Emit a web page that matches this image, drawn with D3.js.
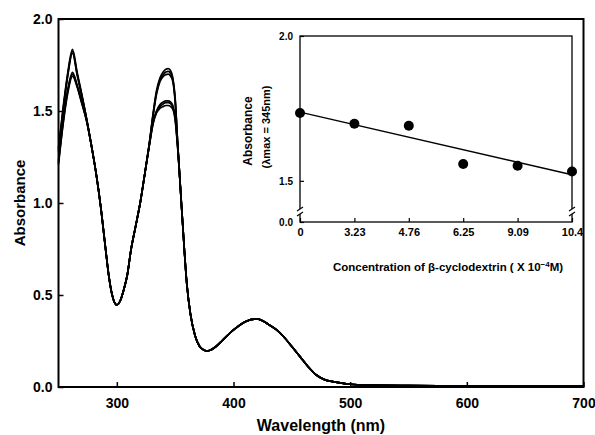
<!DOCTYPE html>
<html>
<head>
<meta charset="utf-8">
<script src="https://cdn.jsdelivr.net/npm/d3@7"></script>
<style>
  body { margin: 0; background: #fff; }
  text { font-family: "Liberation Sans", Arial, sans-serif; font-weight: bold; fill: #000; }
</style>
</head>
<body>
<div id="chart"></div>
<script>
// Wavelength grid (nm), split by region
const wlPeak1 = [250, 254, 258, 262, 266, 270, 274];
const wlMid = [278, 282, 286, 290, 293, 296, 300, 303, 306, 309, 312, 316, 320, 324];
const wlPeak2 = [328, 331, 334, 337, 340, 342, 344, 346, 348, 350, 352];
const wlTail = [356, 360, 363, 367, 371, 375, 377, 380, 385, 390, 400, 410, 420, 430, 437, 443,
  450, 457, 464, 471, 478, 486, 494, 500, 520, 550, 600, 650, 700];

// beta-cyclodextrin concentrations (x 10^-4 M), one spectrum each
const concentrations = ["0", "3.23", "4.76", "6.25", "9.09", "10.4"];

// absorbance around the first band, one row per concentration
const peak1Abs = [
  [1.30, 1.52, 1.71, 1.835, 1.71, 1.59, 1.46],
  [1.29, 1.51, 1.70, 1.825, 1.70, 1.585, 1.46],
  [1.28, 1.50, 1.695, 1.815, 1.695, 1.58, 1.46],
  [1.23, 1.45, 1.62, 1.71, 1.64, 1.55, 1.45],
  [1.22, 1.44, 1.61, 1.70, 1.635, 1.545, 1.45],
  [1.21, 1.43, 1.60, 1.69, 1.63, 1.54, 1.45]
];
// shared part between the bands
const midAbs = [1.32, 1.17, 0.99, 0.77, 0.61, 0.50, 0.446, 0.47, 0.53, 0.61, 0.74, 0.87, 1.0, 1.16];
// absorbance around the 345 nm band
const peak2Abs = [
  [1.33, 1.48, 1.61, 1.68, 1.715, 1.727, 1.73, 1.72, 1.68, 1.57, 1.34],
  [1.33, 1.48, 1.60, 1.67, 1.70, 1.712, 1.715, 1.705, 1.67, 1.56, 1.34],
  [1.33, 1.47, 1.59, 1.66, 1.69, 1.698, 1.70, 1.69, 1.66, 1.55, 1.34],
  [1.32, 1.44, 1.50, 1.535, 1.55, 1.555, 1.555, 1.55, 1.53, 1.47, 1.32],
  [1.32, 1.43, 1.495, 1.525, 1.54, 1.545, 1.545, 1.54, 1.52, 1.46, 1.32],
  [1.32, 1.43, 1.49, 1.515, 1.525, 1.53, 1.53, 1.525, 1.51, 1.45, 1.31]
];
// shared tail (visible band ~420 nm)
const tailAbs = [0.93, 0.56, 0.40, 0.28, 0.22, 0.20, 0.196, 0.20, 0.22, 0.25, 0.31, 0.355, 0.37, 0.34, 0.31, 0.273,
  0.22, 0.165, 0.11, 0.065, 0.04, 0.028, 0.02, 0.015, 0.01, 0.007, 0.005, 0.004, 0.004];

const xTicks = [300, 400, 500, 600, 700];
const yTicks = [0, 0.5, 1.0, 1.5, 2.0];

// inset: absorbance at 345 nm vs concentration
const insetAbs = [1.734, 1.697, 1.69, 1.558, 1.552, 1.532];
const insetFit = [1.737, 1.521];
const insetYTicks = [0, 1.5, 2.0];

const width = 595, height = 435;
const mLeft = 58.5, mRight = 583.5, mTop = 19, mBottom = 387;

const svg = d3.select("#chart").append("svg")
  .attr("width", width)
  .attr("height", height);

const x = d3.scaleLinear().domain([250, 700]).range([mLeft, mRight]);
const y = d3.scaleLinear().domain([0, 2]).range([mBottom, mTop]);

const wavelengths = [...wlPeak1, ...wlMid, ...wlPeak2, ...wlTail];
const spectra = concentrations.map((c, i) => {
  const vals = [...peak1Abs[i], ...midAbs, ...peak2Abs[i], ...tailAbs];
  return wavelengths.map((w, j) => ({ w: w, a: vals[j] }));
});

const line = d3.line()
  .x(d => x(d.w))
  .y(d => y(d.a))
  .curve(d3.curveMonotoneX);

svg.selectAll(".spectrum")
  .data(spectra)
  .enter()
  .append("path")
  .attr("class", "spectrum")
  .attr("d", line)
  .attr("fill", "none")
  .attr("stroke", "#000")
  .attr("stroke-width", 1.7);

// axes (ticks point inward)
const xAxis = svg.append("g")
  .attr("transform", `translate(0,${mBottom})`)
  .call(d3.axisBottom(x).tickValues(xTicks).tickSizeInner(-5).tickSizeOuter(0).tickPadding(11));
const yAxis = svg.append("g")
  .attr("transform", `translate(${mLeft},0)`)
  .call(d3.axisLeft(y).tickValues(yTicks).tickFormat(d3.format(".1f")).tickSizeInner(-5).tickSizeOuter(0).tickPadding(6));

[xAxis, yAxis].forEach(g => {
  g.select(".domain").remove();
  g.selectAll("line").attr("stroke", "#000").attr("stroke-width", 1.5);
  g.selectAll("text").style("font-size", "14px").attr("font-family", null);
});

svg.append("rect")
  .attr("x", mLeft).attr("y", mTop)
  .attr("width", mRight - mLeft).attr("height", mBottom - mTop)
  .attr("fill", "none")
  .attr("stroke", "#000")
  .attr("stroke-width", 2);

svg.append("text")
  .attr("x", (mLeft + mRight) / 2)
  .attr("y", 431)
  .attr("text-anchor", "middle")
  .style("font-size", "16px")
  .text("Wavelength (nm)");

svg.append("text")
  .attr("transform", `translate(25,${(mTop + mBottom) / 2}) rotate(-90)`)
  .attr("text-anchor", "middle")
  .style("font-size", "15px")
  .text("Absorbance");

// --- Inset ---
const iw = 272, ih = 186;
const inset = svg.append("g").attr("transform", "translate(300,36)");

inset.append("rect")
  .attr("width", iw).attr("height", ih)
  .attr("fill", "#fff");

const xi = d3.scalePoint().domain(concentrations).range([0, iw]);
const yi = d3.scaleLinear().domain([0, 1.42, 2]).range([ih, ih - 18, 0]);

const xiAxis = inset.append("g")
  .attr("transform", `translate(0,${ih})`)
  .call(d3.axisBottom(xi).tickSizeInner(-4).tickSizeOuter(0).tickPadding(6));
xiAxis.selectAll("text").style("font-size", "11px");

const yiAxis = inset.append("g")
  .call(d3.axisLeft(yi).tickValues(insetYTicks).tickFormat(d3.format(".1f")).tickSizeInner(-4).tickSizeOuter(0).tickPadding(7));
yiAxis.selectAll("text").style("font-size", "10px");

[xiAxis, yiAxis].forEach(g => {
  g.select(".domain").remove();
  g.selectAll("line").attr("stroke", "#000").attr("stroke-width", 1.2);
  g.selectAll("text").attr("font-family", null);
});

inset.append("rect")
  .attr("width", iw).attr("height", ih)
  .attr("fill", "none")
  .attr("stroke", "#000")
  .attr("stroke-width", 1.3);

// axis break marks on both sides
const breakY = ih - 10;
[0, iw].forEach(bx => {
  inset.append("rect")
    .attr("x", bx - 3).attr("y", breakY - 3)
    .attr("width", 6).attr("height", 5)
    .attr("fill", "#fff");
  [-3, 2].forEach(off => {
    inset.append("line")
      .attr("x1", bx - 3).attr("y1", breakY + off + 2)
      .attr("x2", bx + 3).attr("y2", breakY + off - 2)
      .attr("stroke", "#000")
      .attr("stroke-width", 1.1);
  });
});

inset.append("line")
  .attr("x1", xi(concentrations[0])).attr("y1", yi(insetFit[0]))
  .attr("x2", xi(concentrations[concentrations.length - 1])).attr("y2", yi(insetFit[1]))
  .attr("stroke", "#000")
  .attr("stroke-width", 1.3);

inset.selectAll(".dot")
  .data(insetAbs)
  .enter()
  .append("circle")
  .attr("class", "dot")
  .attr("cx", (d, i) => xi(concentrations[i]))
  .attr("cy", d => yi(d))
  .attr("r", 5)
  .attr("fill", "#000");

inset.append("text")
  .attr("transform", "translate(-48,95) rotate(-90)")
  .attr("text-anchor", "middle")
  .style("font-size", "12px")
  .text("Absorbance");

inset.append("text")
  .attr("transform", "translate(-30,91) rotate(-90)")
  .attr("text-anchor", "middle")
  .style("font-size", "11px")
  .text("(λmax = 345nm)");

const xTitle = inset.append("text")
  .attr("x", 148)
  .attr("y", 235)
  .attr("text-anchor", "middle")
  .style("font-size", "11.5px");
xTitle.append("tspan").text("Concentration of β-cyclodextrin ( X 10");
xTitle.append("tspan").attr("dy", -4).style("font-size", "8px").text("−4");
xTitle.append("tspan").attr("dy", 4).text("M)");
</script>
</body>
</html>
